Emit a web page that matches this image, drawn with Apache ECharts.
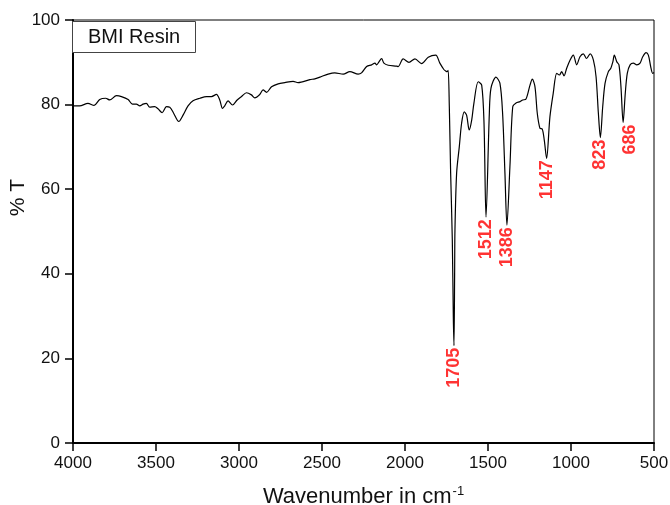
<!DOCTYPE html>
<html>
<head>
<meta charset="utf-8">
<script src="https://cdn.jsdelivr.net/npm/echarts@6/dist/echarts.min.js"></script>
<style>
  html, body { margin: 0; padding: 0; background: #fff; }
  #chart { width: 670px; height: 505px; }
</style>
</head>
<body>
<div id="chart"></div>
<script>
// FTIR spectrum of BMI resin: wavenumber (cm-1) and transmittance (%T)
const wavenumbers = [
  3996, 3960, 3910, 3873, 3839, 3803, 3779, 3738, 3708, 3668, 3642, 3618, 3598, 3578, 3558,
  3538, 3508, 3488, 3463, 3437, 3417, 3393, 3363, 3337, 3307, 3277, 3236, 3196, 3166, 3136,
  3116, 3099, 3086, 3066, 3039, 3011, 2985, 2955, 2925, 2905, 2875, 2855, 2834, 2804, 2764,
  2724, 2674, 2644, 2573, 2543, 2513, 2463, 2423, 2372, 2332, 2282, 2262, 2231, 2201, 2181,
  2171, 2157, 2141, 2127, 2101, 2051, 2041, 2011, 1976, 1940, 1900, 1860, 1815, 1790, 1766,
  1753, 1746, 1740, 1733, 1725, 1715, 1709, 1705, 1701, 1699, 1689, 1673, 1659, 1643, 1629,
  1613, 1598, 1585, 1559, 1538, 1524, 1512, 1492, 1482, 1452, 1428, 1412, 1398, 1386, 1368,
  1351, 1331, 1307, 1291, 1271, 1247, 1233, 1217, 1203, 1187, 1173, 1161, 1147, 1127, 1107,
  1086, 1070, 1056, 1042, 1026, 1006, 986, 966, 946, 926, 906, 885, 865, 849, 835,
  823, 809, 795, 775, 760, 748, 739, 724, 711, 699, 686, 673, 661, 644, 624,
  604, 584, 568, 548, 534, 520, 508, 500
];
const transmittance = [
  79.7, 79.7, 80.3, 79.8, 81.2, 81.5, 81.1, 82.1, 81.9, 81.2, 80.1, 80.1, 79.7, 80.1, 80.3,
  79.4, 79.5, 79.0, 78.1, 79.5, 79.4, 77.9, 76.0, 77.5, 79.7, 80.9, 81.5, 81.9, 81.9, 82.4,
  81.1, 79.1, 79.7, 80.9, 79.9, 81.1, 81.9, 82.8, 82.3, 81.6, 82.4, 83.5, 82.9, 84.2, 84.9,
  85.2, 85.5, 85.2, 85.9, 86.1, 86.5, 87.2, 87.5, 87.2, 87.8, 87.2, 87.5, 89.0, 89.4, 89.8,
  89.4, 90.1, 90.9, 89.8, 89.3, 89.1, 89.0, 90.8, 90.0, 90.8, 89.7, 91.2, 91.7, 89.8, 88.3,
  87.9, 87.8, 88.1, 79.5, 63.8, 48.0, 30.0, 23.0, 40.0, 50.4, 63.8, 70.0, 75.6, 78.3, 77.5,
  74.0, 76.4, 80.3, 85.4, 84.6, 75.6, 53.4, 77.9, 83.9, 86.5, 85.0, 77.9, 63.8, 51.5, 65.3,
  79.5, 80.4, 80.7, 81.1, 81.3, 84.6, 86.0, 84.2, 77.9, 74.4, 74.2, 71.6, 67.3, 77.1, 82.7,
  87.4, 87.0, 87.8, 86.8, 88.6, 90.5, 91.7, 89.4, 91.3, 92.0, 90.9, 92.0, 90.5, 86.6, 77.9,
  72.2, 79.5, 85.0, 87.8, 88.6, 90.1, 91.7, 90.1, 89.4, 84.2, 75.8, 82.7, 87.4, 89.4, 89.8,
  89.4, 89.8, 91.3, 92.3, 91.7, 89.0, 87.4, 87.6
];

// Labelled absorption bands (wavenumber and the minimum %T of each band)
const peakWavenumbers = [1705, 1512, 1386, 1147, 823, 686];
const peakTransmittance = [23.0, 53.4, 51.5, 67.3, 72.2, 75.8];

const xTicks = [4000, 3500, 3000, 2500, 2000, 1500, 1000, 500];
const yTicks = [0, 20, 40, 60, 80, 100];

const spectrum = wavenumbers.map((w, i) => [w, transmittance[i]]);
const peaks = peakWavenumbers.map((w, i) => ({
  value: [w, peakTransmittance[i]],
  name: String(w),
  // the 686 band label sits a little to the right of its minimum
  label: w === 686 ? { offset: [0, 7] } : undefined
}));

const FONT = 'Liberation Sans, Arial, sans-serif';
const chart = echarts.init(document.getElementById('chart'), null, { renderer: 'canvas' });

chart.setOption({
  animation: false,
  backgroundColor: '#fff',
  title: {
    text: 'BMI Resin',
    left: 72,
    top: 21,
    z: 50,
    padding: [5, 16, 5, 16],
    backgroundColor: '#fff',
    borderColor: '#444',
    borderWidth: 1,
    textStyle: { fontFamily: FONT, fontSize: 20, fontWeight: 'normal', color: '#111', lineHeight: 22 }
  },
  grid: {
    left: 73, right: 16, top: 20, bottom: 62,
    containLabel: false,
    outerBoundsMode: 'none',
    show: true, borderColor: '#000', borderWidth: 1, backgroundColor: 'transparent'
  },
  xAxis: {
    type: 'value',
    inverse: true,
    min: xTicks[xTicks.length - 1],
    max: xTicks[0],
    interval: 500,
    name: '{n|Wavenumber in cm}{s|-1}',
    nameLocation: 'middle',
    nameGap: 42,
    nameMoveOverlap: false,
    nameTextStyle: {
      rich: {
        n: { fontFamily: FONT, fontSize: 22, color: '#111' },
        s: { fontFamily: FONT, fontSize: 13, color: '#111', verticalAlign: 'top', padding: [0, 0, 11, 1] }
      }
    },
    axisLine: { lineStyle: { color: '#000', width: 2 } },
    axisTick: { inside: false, length: 8, lineStyle: { color: '#000', width: 1.5 } },
    axisLabel: { fontFamily: FONT, fontSize: 17, color: '#111', margin: 12, formatter: v => String(v) },
    splitLine: { show: false }
  },
  yAxis: {
    type: 'value',
    min: yTicks[0],
    max: yTicks[yTicks.length - 1],
    interval: 20,
    name: '% T',
    nameLocation: 'middle',
    nameGap: 44,
    nameMoveOverlap: false,
    nameTextStyle: { fontFamily: FONT, fontSize: 21, color: '#111', padding: [0, 0, 0, 68] },
    axisLine: { lineStyle: { color: '#000', width: 2 } },
    axisTick: { inside: false, length: 8, lineStyle: { color: '#000', width: 1.5 } },
    axisLabel: { fontFamily: FONT, fontSize: 17, color: '#111', margin: 13, formatter: v => String(v) },
    splitLine: { show: false }
  },
  series: [
    {
      type: 'line',
      data: spectrum,
      showSymbol: false,
      smooth: 0.3,
      lineStyle: { color: '#000', width: 1.2 },
      z: 3
    },
    {
      type: 'scatter',
      data: peaks,
      symbolSize: 0,
      label: {
        show: true,
        formatter: p => p.name,
        position: 'bottom',
        distance: 2,
        rotate: 90,
        align: 'right',
        verticalAlign: 'middle',
        fontFamily: FONT,
        fontSize: 18,
        fontWeight: 'bold',
        color: '#ff0000'
      },
      z: 4
    }
  ]
});
</script>
</body>
</html>
